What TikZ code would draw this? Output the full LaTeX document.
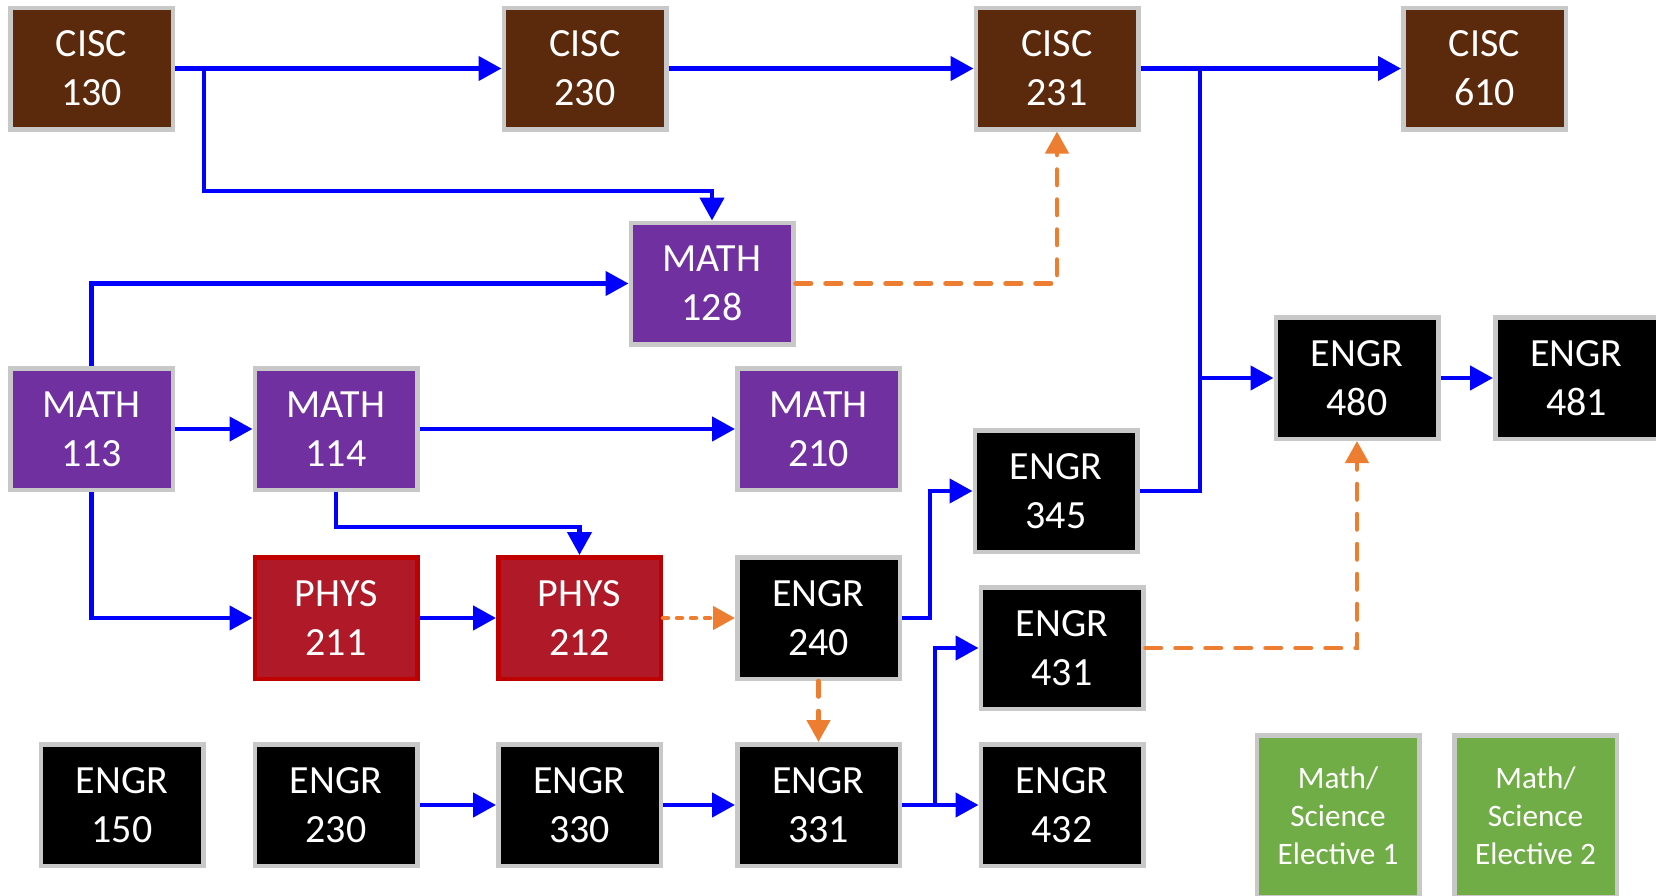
\documentclass[tikz,border=0pt]{standalone}
\usepackage{fontspec}
\setmainfont{Carlito}
\usetikzlibrary{arrows.meta}
\definecolor{ciscbrown}{RGB}{91,42,12}
\definecolor{mathpurple}{RGB}{112,48,160}
\definecolor{physred}{RGB}{175,25,40}
\definecolor{physborder}{RGB}{192,0,0}
\definecolor{boxgray}{RGB}{200,200,200}
\definecolor{elecgreen}{RGB}{112,173,71}
\definecolor{arrblue}{RGB}{0,0,255}
\definecolor{arrorange}{RGB}{237,125,49}
\newcommand\coursefont{\fontsize{20pt}{24.5pt}\selectfont}
\newcommand\elecfont{\fontsize{15.6pt}{19pt}\selectfont}
\tikzset{
  course/.style={draw=boxgray, line width=2.25pt, minimum width=81.25pt, minimum height=60.75pt,
    inner sep=0pt, text=white, align=center, font=\coursefont},
  cisc/.style={course, fill=ciscbrown},
  math/.style={course, fill=mathpurple},
  phys/.style={course, fill=physred, draw=physborder},
  engr/.style={course, fill=black},
  elec/.style={course, fill=elecgreen, font=\elecfont, minimum height=80.75pt},
  req/.style={draw=arrblue, line width=2.25pt, -{Triangle[length=11.5pt,width=12pt]}},
  reqline/.style={draw=arrblue, line width=2.25pt},
  opt/.style={draw=arrorange, line width=2.25pt, line cap=round, dash pattern=on 7.75pt off 7.25pt,
    -{Triangle[length=11pt,width=11.5pt]}},
  optdot/.style={draw=arrorange, line width=2.25pt, line cap=round, dash pattern=on 2.5pt off 4.5pt,
    -{Triangle[length=11pt,width=11.5pt]}}
}
\begin{document}
\begin{tikzpicture}[x=0.5pt, y=-0.5pt]
\useasboundingbox (0,0) rectangle (1656,895);
\clip (0,0) rectangle (1656,895);
% nodes
\node[cisc] (c130) at (91.5,68.5) {CISC\\130};
\node[cisc] (c230) at (585,68.5) {CISC\\230};
\node[cisc] (c231) at (1057,68.5) {CISC\\231};
\node[cisc] (c610) at (1484.5,68.5) {CISC\\610};
\node[math] (m128) at (712,283.5) {MATH\\128};
\node[math] (m113) at (91.5,429) {MATH\\113};
\node[math] (m114) at (336,429) {MATH\\114};
\node[math] (m210) at (818.5,429) {MATH\\210};
\node[engr] (e480) at (1357,378) {ENGR\\480};
\node[engr] (e481) at (1576.5,378) {ENGR\\481};
\node[engr] (e345) at (1056,491) {ENGR\\345};
\node[phys] (p211) at (336,618) {PHYS\\211};
\node[phys] (p212) at (579.5,618) {PHYS\\212};
\node[engr] (e240) at (818.5,618) {ENGR\\240};
\node[engr] (e431) at (1062,648) {ENGR\\431};
\node[engr] (e150) at (122,805) {ENGR\\150};
\node[engr] (e230) at (336,805) {ENGR\\230};
\node[engr] (e330) at (579.5,805) {ENGR\\330};
\node[engr] (e331) at (818.5,805) {ENGR\\331};
\node[engr] (e432) at (1062,805) {ENGR\\432};
\node[elec] (el1) at (1338,816) {Math/\\Science\\Elective 1};
\node[elec] (el2) at (1535.5,816) {Math/\\Science\\Elective 2};
% junctions
\coordinate (j1) at (204,191);
\coordinate (j2) at (1200,378);
\coordinate (j3) at (336,527);
\coordinate (j4) at (930,618);
\coordinate (j5) at (935,805);
% connectors
\draw[req] (c130.east) -- (c230.west);
\draw[req] (c130.east) -| (j1) -| (m128.north);
\draw[req] (c230.east) -- (c231.west);
\draw[req] (c231.east) -- (c610.west);
\draw[req] (c231.east) -| (j2) -- (e480.west);
\draw[reqline] (e345.east) -| (j2);
\draw[req] (e480.east) -- (e481.west);
\draw[req] (m113.north) |- (m128.west);
\draw[req] (m113.east) -- (m114.west);
\draw[req] (m114.east) -- (m210.west);
\draw[req] (m113.south) |- (p211.west);
\draw[req] (p211.east) -- (p212.west);
\draw[req] (m114.south) -- (j3) -| (p212.north);
\draw[req] (e240.east) -- (j4) |- (e345.west);
\draw[req] (e230.east) -- (e330.west);
\draw[req] (e330.east) -- (e331.west);
\draw[req] (e331.east) -- (e432.west);
\draw[req] (e331.east) -- (j5) |- (e431.west);
\draw[optdot] (p212.east) -- (e240.west);
\draw[opt] (m128.east) -| (c231.south);
\draw[opt] (e240.south) -- (e331.north);
\draw[opt] (e431.east) -| (e480.south);
\end{tikzpicture}
\end{document}
